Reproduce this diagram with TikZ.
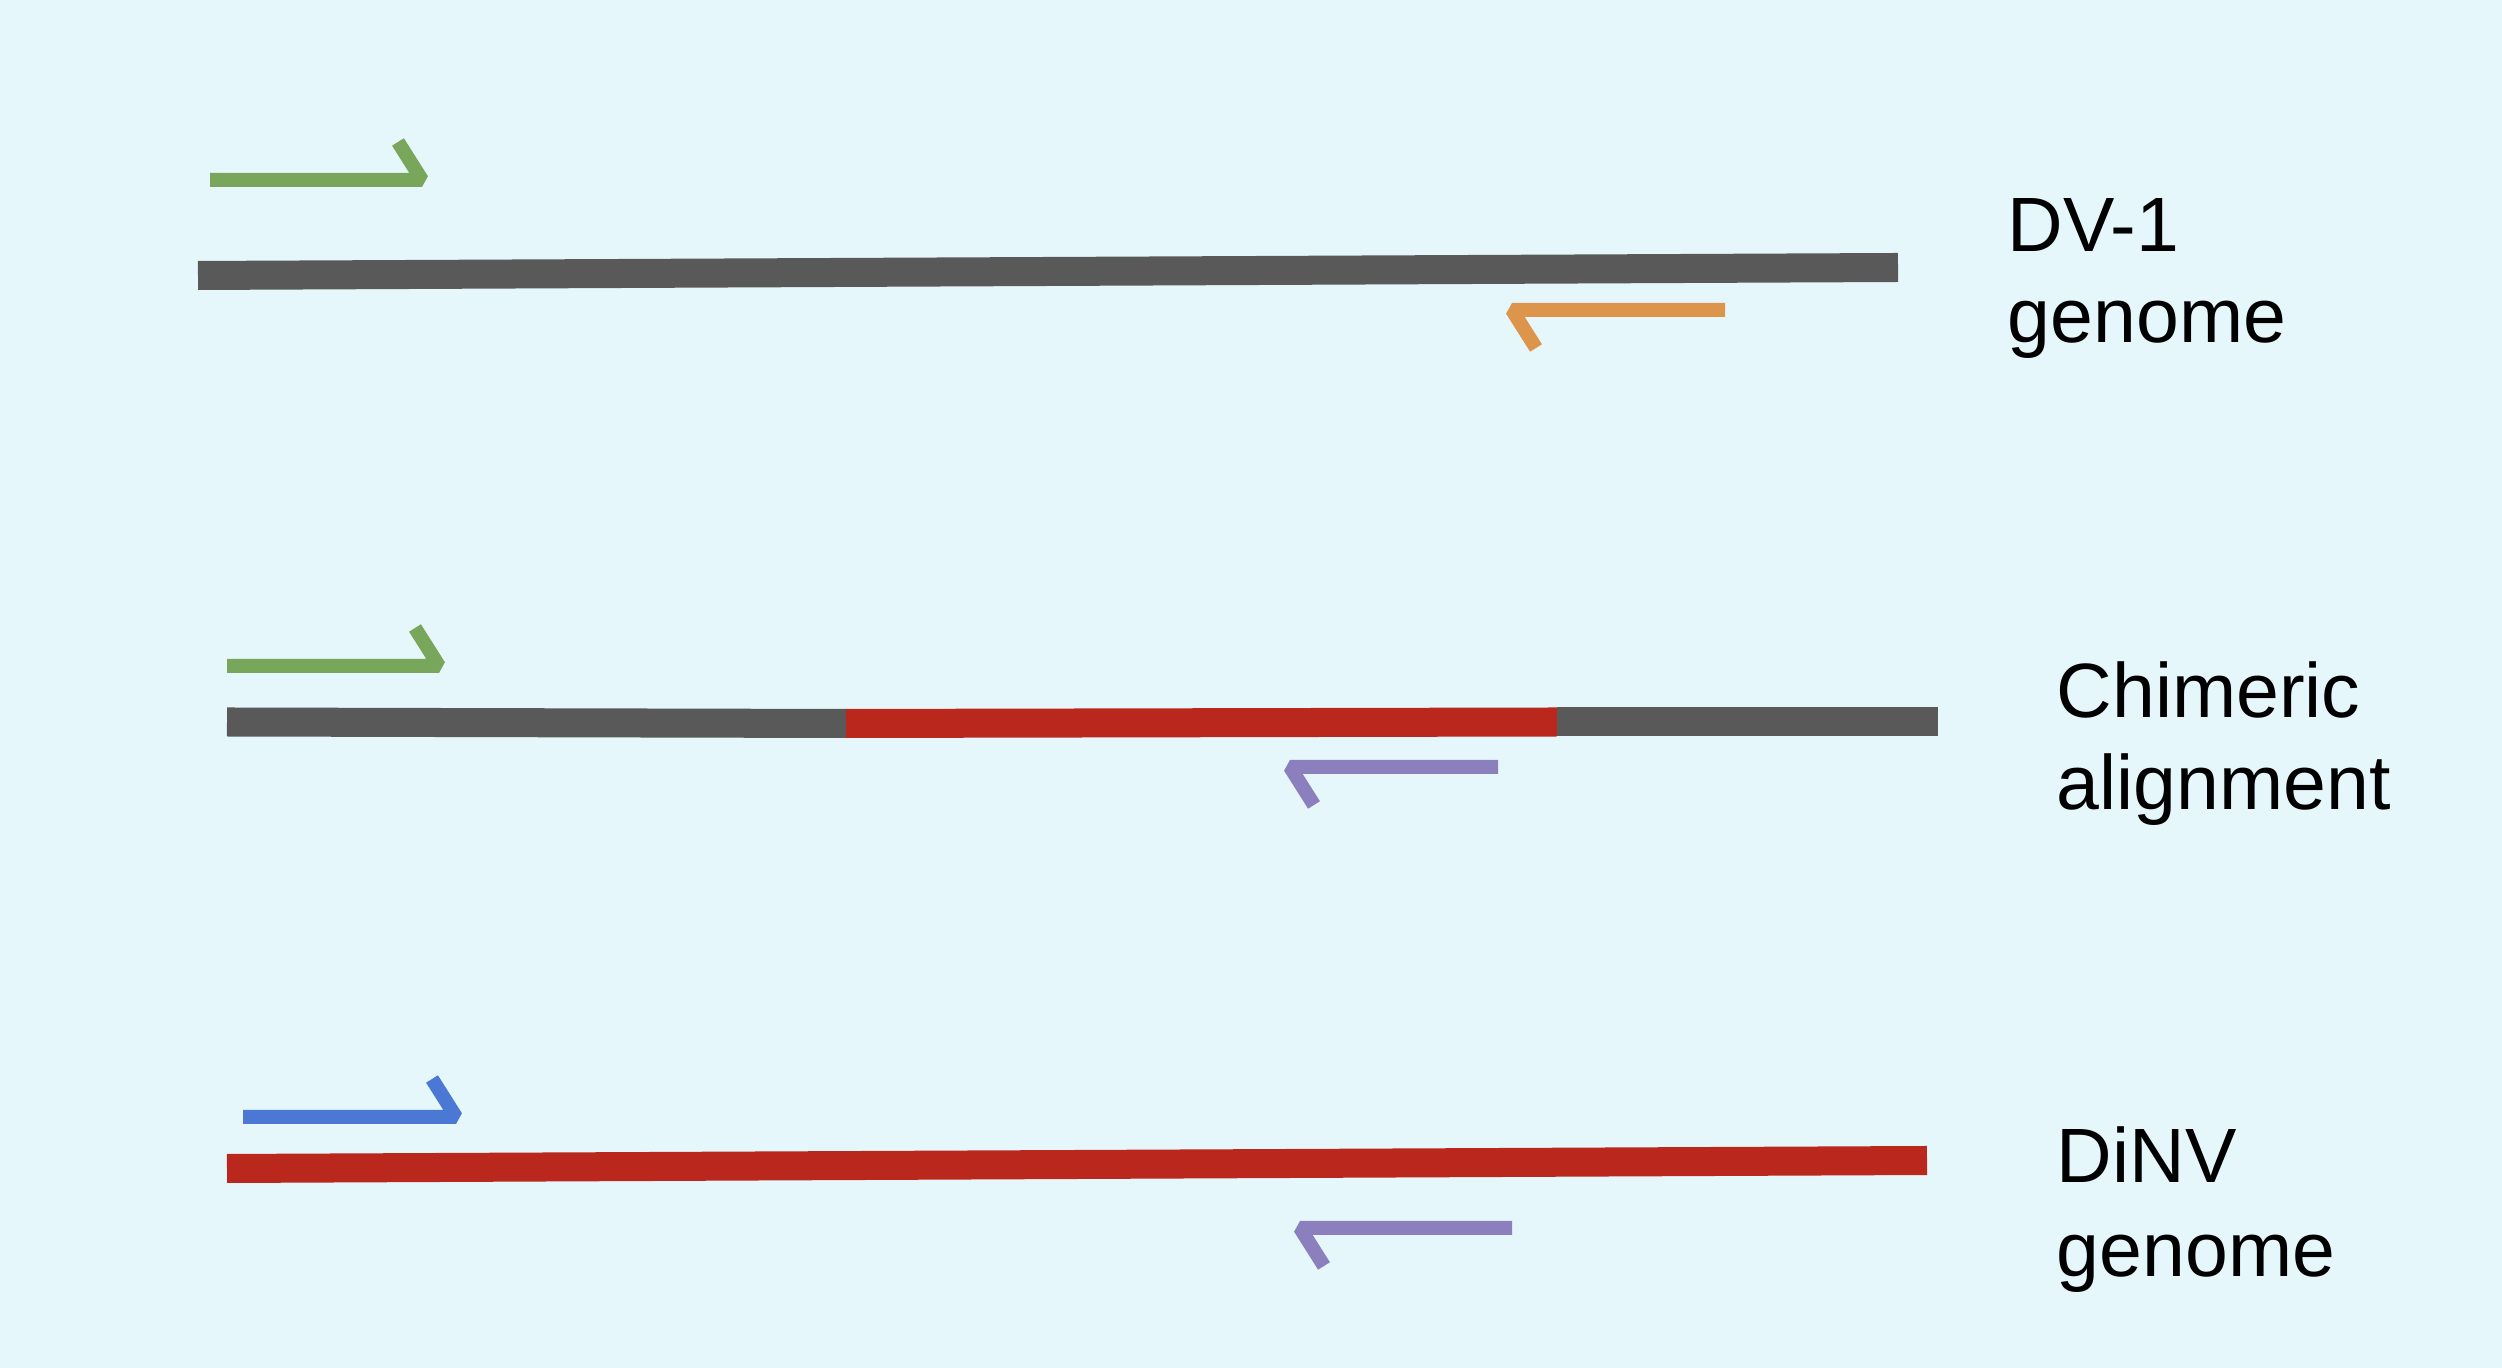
\documentclass[tikz,border=0pt]{standalone}
\usepackage{fontspec}
\setmainfont{Liberation Sans}
\usetikzlibrary{positioning}

\definecolor{bgblue}{RGB}{230,247,252}
\definecolor{dvgray}{RGB}{89,89,89}
\definecolor{dinvred}{RGB}{186,39,29}
\definecolor{fwdgreen}{RGB}{120,166,90}
\definecolor{revorange}{RGB}{220,149,74}
\definecolor{revpurple}{RGB}{140,127,189}
\definecolor{fwdblue}{RGB}{74,120,212}

\begin{document}
\begin{tikzpicture}[x=0.01cm,y=-0.01cm,
            genome/.style={line width=0.29cm},
            primer/.style={line width=0.14cm,line join=bevel},
            lbl/.style={anchor=base west,inner sep=0pt,
                        font=\fontsize{21.9}{26}\selectfont}]

      \fill[bgblue] (0,0) rectangle (2502,1368);
      \useasboundingbox (0,0) rectangle (2502,1368);

      % DV-1 genome
      \coordinate (dv_l) at (198,275.5);
      \coordinate (dv_r) at (1898,267.5);
      \coordinate (f1_s) at (210,180);
      \coordinate (f1_t) at (422,180);
      \coordinate (r1_s) at (1725,310);
      \coordinate (r1_t) at (1512,310);

      % chimeric alignment
      \coordinate (ch_l)  at (227,722);
      \coordinate (ch_a)  at (846,723.5);
      \coordinate (ch_b)  at (1557,722);
      \coordinate (ch_r)  at (1938,722);
      \coordinate (f2_s) at (227,666);
      \coordinate (f2_t) at (439,666);
      \coordinate (r2_s) at (1498,767);
      \coordinate (r2_t) at (1290,767);

      % DiNV genome
      \coordinate (di_l) at (227,1168.5);
      \coordinate (di_r) at (1927,1160.5);
      \coordinate (f3_s) at (243,1117);
      \coordinate (f3_t) at (456,1117);
      \coordinate (r3_s) at (1512,1228);
      \coordinate (r3_t) at (1300,1228);

      \draw[genome,dvgray] (dv_l) -- (dv_r);
      \draw[genome,dvgray] (ch_l) -- (ch_a);
      \draw[genome,dinvred] (ch_a) -- (ch_b);
      \draw[genome,dvgray] (ch_b) -- (ch_r);
      \draw[genome,dinvred] (di_l) -- (di_r);

      \draw[primer,fwdgreen]   (f1_s) -- (f1_t) -- ++(-24,-38);
      \draw[primer,revorange]  (r1_s) -- (r1_t) -- ++(24,38);
      \draw[primer,fwdgreen]   (f2_s) -- (f2_t) -- ++(-24,-38);
      \draw[primer,revpurple]  (r2_s) -- (r2_t) -- ++(24,38);
      \draw[primer,fwdblue]    (f3_s) -- (f3_t) -- ++(-24,-38);
      \draw[primer,revpurple]  (r3_s) -- (r3_t) -- ++(24,38);

      \node[lbl] (dv_name)  at (2007,252)  {DV-1};
      \node[lbl] (dv_kind)  at (2007,343)  {genome};
      \node[lbl] (ch_name)  at (2056,718)  {Chimeric};
      \node[lbl] (ch_kind)  at (2056,810)  {alignment};
      \node[lbl] (di_name)  at (2056,1183) {DiNV};
      \node[lbl] (di_kind)  at (2056,1277) {genome};

\end{tikzpicture}
\end{document}
